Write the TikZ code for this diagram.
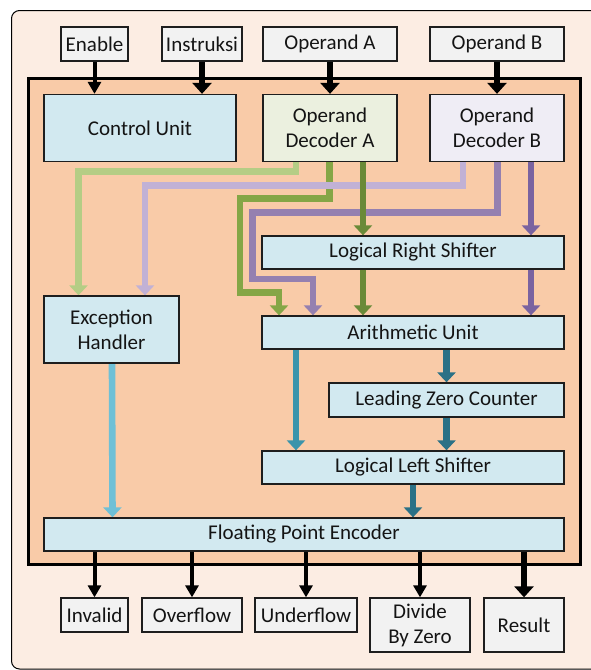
\documentclass[tikz,border=0pt]{standalone}
\usepackage{fontspec}
\setmainfont{Carlito}
\usetikzlibrary{arrows.meta}
\pgfdeclarelayer{back}
\pgfdeclarelayer{bg}
\pgfsetlayers{back,bg,main}
\definecolor{outerbg}{HTML}{FCEDE3}
\definecolor{innerbg}{HTML}{F9CBA8}
\definecolor{boxline}{HTML}{1E1E1E}
\definecolor{grayfill}{HTML}{F2F2F2}
\definecolor{bluefill}{HTML}{D2E9F0}
\definecolor{greenfill}{HTML}{EBF0DF}
\definecolor{lavfill}{HTML}{EFEDF5}
\definecolor{lgreen}{HTML}{B5CD85}
\definecolor{mgreen}{HTML}{85A646}
\definecolor{dgreen}{HTML}{6A8A38}
\definecolor{llav}{HTML}{C1B1D5}
\definecolor{mpurp}{HTML}{9580B0}
\definecolor{dpurp}{HTML}{7A63A0}
\definecolor{lblue}{HTML}{6FC0D6}
\definecolor{mteal}{HTML}{3B94AB}
\definecolor{dteal}{HTML}{2B7186}
\begin{document}
\begin{tikzpicture}[x=1pt,y=-1pt,
  box/.style={draw=boxline, line width=1.3pt, inner sep=0pt, align=center,
    font=\fontsize{21}{25}\selectfont, text=black!92},
  sz/.style 2 args={minimum width=#1pt, minimum height=#2pt},
  gbox/.style={box, fill=grayfill},
  bbox/.style={box, fill=bluefill},
  blk/.style={line width=4pt, draw=black, -{Triangle[width=13pt,length=12pt]}},
  blkT/.style={line width=6.5pt, draw=black, -{Triangle[width=19pt,length=11pt]}},
  carr/.style={line width=6.6pt, -{Triangle[width=18pt,length=10pt]}}
]
\useasboundingbox (0,0) rectangle (590,670);

% inputs
\node[gbox, sz={67}{34}] (en) at (94.5,44) {Enable};
\node[gbox, sz={80}{34}] (ins) at (202,44) {Instruksi};
\node[gbox, sz={134}{34}] (opa) at (330,44) {Operand A};
\node[gbox, sz={134}{34}] (opb) at (497,44) {Operand B};

% blocks
\node[bbox, sz={192}{67}] (cu) at (140,128) {Control Unit};
\node[box, fill=greenfill, sz={134}{67}] (oda) at (330,128) {Operand\\Decoder A};
\node[box, fill=lavfill, sz={134}{67}] (odb) at (497,128) {Operand\\Decoder B};
\node[bbox, sz={135}{67}] (eh) at (111.5,329.5) {Exception\\Handler};
\node[bbox, sz={302}{33}] (lrs) at (413,252.5) {Logical Right Shifter};
\node[bbox, sz={302}{33}] (au) at (413,332.5) {Arithmetic Unit};
\node[bbox, sz={235}{34}] (lzc) at (446.5,400) {Leading Zero Counter};
\node[bbox, sz={302}{33}] (lls) at (413,467.5) {Logical Left Shifter};
\node[bbox, sz={520}{33}] (fpe) at (304,534.5) {Floating Point Encoder};

% outputs
\node[gbox, sz={67}{34}] (inv) at (94.5,615) {Invalid};
\node[gbox, sz={100}{34}] (ovf) at (192,615) {Overflow};
\node[gbox, sz={102}{34}] (unf) at (306,615) {Underflow};
\node[gbox, sz={100}{54}] (dbz) at (420,625) {Divide\\By Zero};
\node[gbox, sz={80}{54}] (res) at (524,625) {Result};

\begin{pgfonlayer}{back}
  \draw[fill=outerbg, line width=1pt, rounded corners=8pt] (11.5,10.5) rectangle (602,669);
  \draw[fill=innerbg, line width=3pt] (28.3,78) rectangle (580.7,564);
\end{pgfonlayer}

\begin{pgfonlayer}{bg}
  % input arrows
  \draw[blk] (en.south) -- (en.south |- cu.north);
  \draw[blkT] (ins.south) -- (ins.south |- cu.north);
  \draw[blkT] (opa.south) -- (oda.north);
  \draw[blkT] (opb.south) -- (odb.north);

  % decoder routing
  \draw[carr, draw=lgreen] ([xshift=-34pt]oda.south) |- (78.5,171.5) -- ([xshift=-33pt]eh.north);
  \draw[carr, draw=mgreen] ([xshift=-0.5pt]oda.south) |- (240,198.5) |- (279,292.5) -- ([xshift=-134pt]au.north);
  \draw[carr, draw=llav] ([xshift=-34pt]odb.south) |- (145,185.5) -- ([xshift=33.5pt]eh.north);
  \draw[carr, draw=mpurp] ([xshift=0.5pt]odb.south) |- (252.5,212.5) |- (313,279) -- ([xshift=-100pt]au.north);
  \draw[carr, draw=dgreen] ([xshift=33pt]oda.south) -- ([xshift=-50pt]lrs.north);
  \draw[carr, draw=dgreen] ([xshift=-50pt]lrs.south) -- ([xshift=-50pt]au.north);
  \draw[carr, draw=dpurp] ([xshift=34pt]odb.south) -- ([xshift=118pt]lrs.north);
  \draw[carr, draw=dpurp] ([xshift=118pt]lrs.south) -- ([xshift=118pt]au.north);

  % datapath
  \draw[carr, draw=mteal] ([xshift=-117pt]au.south) -- ([xshift=-117pt]lls.north);
  \draw[carr, draw=dteal] ([xshift=33.5pt]au.south) -- (lzc.north);
  \draw[carr, draw=dteal] (lzc.south) -- ([xshift=33.5pt]lls.north);
  \draw[carr, draw=dteal] (lls.south) -- ([xshift=109pt]fpe.north);
  \draw[carr, draw=lblue] ([xshift=0.5pt]eh.south) -- ([xshift=-191.5pt]fpe.north);

  % output arrows
  \draw[blk] (fpe.south -| inv.north) -- (inv.north);
  \draw[blk] (fpe.south -| ovf.north) -- (ovf.north);
  \draw[blk] (fpe.south -| unf.north) -- (unf.north);
  \draw[blk] (fpe.south -| dbz.north) -- (dbz.north);
  \draw[blkT] (fpe.south -| res.north) -- (res.north);
\end{pgfonlayer}
\end{tikzpicture}
\end{document}
